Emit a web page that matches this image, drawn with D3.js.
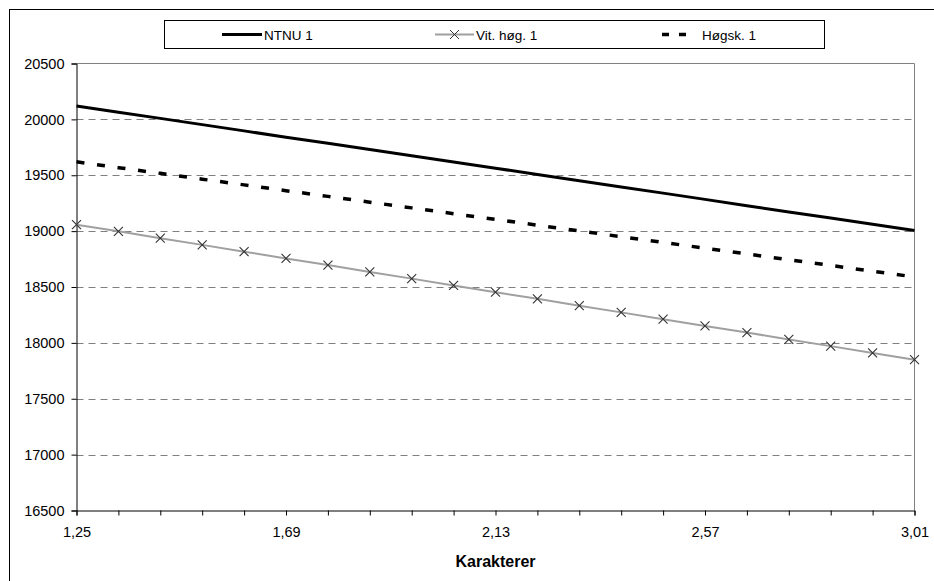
<!DOCTYPE html>
<html>
<head>
<meta charset="utf-8">
<script src="https://cdn.jsdelivr.net/npm/d3@7/dist/d3.min.js"></script>
<style>
    body { margin: 0; background: #fff; }
    svg { display: block; font-family: "Liberation Sans", Arial, sans-serif; }
</style>
</head>
<body>
<div id="chart"></div>
<script>
// category axis (Karakterer), 21 steps
const categories = ['1,25', '1,34', '1,43', '1,51', '1,60', '1,69', '1,78', '1,87', '1,95', '2,04',
    '2,13', '2,22', '2,31', '2,39', '2,48', '2,57', '2,66', '2,75', '2,83', '2,92', '3,01'];
const xTickLabels = ['1,25', '1,69', '2,13', '2,57', '3,01'];
const yTicks = [16500, 17000, 17500, 18000, 18500, 19000, 19500, 20000, 20500];

const ntnu = [20120, 20064, 20009, 19953, 19897, 19841, 19786, 19730, 19674, 19618, 19563,
    19507, 19451, 19395, 19340, 19284, 19228, 19172, 19117, 19061, 19005];
const vitHog = [19058, 18998, 18937, 18877, 18816, 18756, 18696, 18635, 18575, 18514, 18454,
    18394, 18333, 18273, 18212, 18152, 18092, 18031, 17971, 17910, 17850];
const hogsk = [19620, 19568, 19517, 19465, 19414, 19362, 19311, 19259, 19208, 19156, 19105,
    19053, 19002, 18950, 18899, 18847, 18796, 18744, 18693, 18641, 18590];

const seriesNames = ['NTNU 1', 'Vit. høg. 1', 'Høgsk. 1'];

const W = 934, H = 581;
const plot = { left: 76.5, right: 914.5, top: 63.5, bottom: 510.5 };

const svg = d3.select('#chart').append('svg')
    .attr('width', W)
    .attr('height', H);

// outer chart frame (runs off the right / bottom edge)
svg.append('rect')
    .attr('x', 9.5).attr('y', 9.5)
    .attr('width', 960).attr('height', 620)
    .attr('fill', 'none')
    .attr('stroke', '#000');

const x = d3.scalePoint()
    .domain(categories)
    .range([plot.left, plot.right]);

const y = d3.scaleLinear()
    .domain([16500, 20500])
    .range([plot.bottom, plot.top]);

// gridlines
svg.append('g')
    .selectAll('line')
    .data(yTicks.filter(v => v > 16500 && v < 20500))
    .enter()
    .append('line')
    .attr('x1', plot.left)
    .attr('x2', plot.right)
    .attr('y1', d => Math.round(y(d)) + 0.5)
    .attr('y2', d => Math.round(y(d)) + 0.5)
    .attr('stroke', '#808080')
    .attr('stroke-dasharray', '7,5');

// plot area border (top + right)
svg.append('path')
    .attr('d', `M${plot.left},${plot.top}H${plot.right}V${plot.bottom}`)
    .attr('fill', 'none')
    .attr('stroke', '#808080');

// axes
const yAxis = svg.append('g')
    .attr('transform', `translate(${plot.left},0)`)
    .call(d3.axisLeft(y).tickValues(yTicks).tickSize(5).tickPadding(7).tickFormat(d => d));

const xAxis = svg.append('g')
    .attr('transform', `translate(0,${plot.bottom})`)
    .call(d3.axisBottom(x).tickSize(5).tickPadding(11)
        .tickFormat(d => xTickLabels.includes(d) ? d : ''));

[yAxis, xAxis].forEach(g => {
    g.select('.domain').attr('stroke', '#000');
    g.selectAll('.tick line').attr('stroke', '#000');
    g.selectAll('.tick text')
        .attr('fill', '#000')
        .style('font-size', '14.5px')
        .style('font-family', '"Liberation Sans", Arial, sans-serif');
});

svg.append('text')
    .attr('x', (plot.left + plot.right) / 2)
    .attr('y', 567)
    .attr('text-anchor', 'middle')
    .style('font-size', '16px')
    .style('font-weight', 'bold')
    .text('Karakterer');

// series
const line = d3.line()
    .x((d, i) => x(categories[i]))
    .y(d => y(d));

svg.append('path')
    .datum(vitHog)
    .attr('d', line)
    .attr('fill', 'none')
    .attr('stroke', '#a0a0a0')
    .attr('stroke-width', 2);

const cross = (cx, cy, r) => `M${cx - r},${cy - r}L${cx + r},${cy + r}M${cx - r},${cy + r}L${cx + r},${cy - r}`;

svg.append('g')
    .selectAll('path')
    .data(vitHog)
    .enter()
    .append('path')
    .attr('d', (d, i) => cross(x(categories[i]), y(d), 4.5))
    .attr('stroke', '#333')
    .attr('stroke-width', 1.1);

svg.append('path')
    .datum(hogsk)
    .attr('d', line)
    .attr('fill', 'none')
    .attr('stroke', '#000')
    .attr('stroke-width', 3.5)
    .attr('stroke-dasharray', '8,12.7');

svg.append('path')
    .datum(ntnu)
    .attr('d', line)
    .attr('fill', 'none')
    .attr('stroke', '#000')
    .attr('stroke-width', 3);

// legend
const legend = svg.append('g');
legend.append('rect')
    .attr('x', 164.5).attr('y', 20.5)
    .attr('width', 660).attr('height', 28)
    .attr('fill', '#fff')
    .attr('stroke', '#000');

const legendItems = [
    { name: seriesNames[0], x0: 222, x1: 262, tx: 264 },
    { name: seriesNames[1], x0: 435, x1: 474, tx: 476 },
    { name: seriesNames[2], x0: 662, x1: 692, tx: 702 }
];

legend.append('line')
    .attr('x1', legendItems[0].x0).attr('x2', legendItems[0].x1)
    .attr('y1', 34.5).attr('y2', 34.5)
    .attr('stroke', '#000').attr('stroke-width', 3);

legend.append('line')
    .attr('x1', legendItems[1].x0).attr('x2', legendItems[1].x1)
    .attr('y1', 34.5).attr('y2', 34.5)
    .attr('stroke', '#a0a0a0').attr('stroke-width', 2);
legend.append('path')
    .attr('d', cross((legendItems[1].x0 + legendItems[1].x1) / 2, 34.5, 4.5))
    .attr('stroke', '#333');

legend.append('line')
    .attr('x1', legendItems[2].x0).attr('x2', legendItems[2].x1)
    .attr('y1', 34.5).attr('y2', 34.5)
    .attr('stroke', '#000').attr('stroke-width', 3.5)
    .attr('stroke-dasharray', '7,10');

legend.selectAll('text')
    .data(legendItems)
    .enter()
    .append('text')
    .attr('x', d => d.tx)
    .attr('y', 39.5)
    .style('font-size', '13.5px')
    .text(d => d.name);
</script>
</body>
</html>
